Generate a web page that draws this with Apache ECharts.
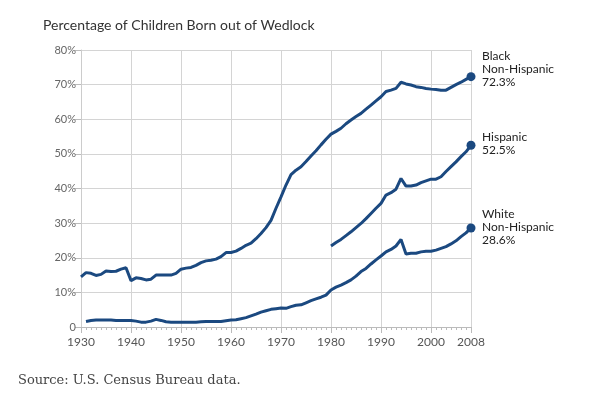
<!DOCTYPE html>
<html>
<head>
<meta charset="utf-8">
<script src="https://cdn.jsdelivr.net/npm/echarts@6/dist/echarts.min.js"></script>
<style>html,body{margin:0;padding:0;background:#fff;}#c{width:600px;height:400px;}</style>
</head>
<body>
<div id="c"></div>
<script>
const titleText = 'Percentage of Children Born out of Wedlock';
const sourceText = 'Source: U.S. Census Bureau data.';
const xTicks = [1930, 1940, 1950, 1960, 1970, 1980, 1990, 2000, 2008];

const blackStart = 1930;
const blackValues = [14.5,15.7,15.5,14.9,15.2,16.2,16.0,16.1,16.7,17.1,
  13.4,14.2,14.0,13.6,13.8,15.0,15.0,15.0,15.0,15.5,
  16.7,17.0,17.2,17.8,18.6,19.1,19.3,19.6,20.3,21.5,
  21.5,21.9,22.7,23.6,24.2,25.5,27.0,28.7,30.8,34.3,
  37.6,41.0,44.0,45.3,46.3,47.8,49.4,50.9,52.6,54.2,
  55.7,56.5,57.4,58.7,59.8,60.8,61.7,62.9,64.1,65.3,
  66.5,68.0,68.4,68.9,70.7,70.2,69.9,69.4,69.2,68.9,
  68.7,68.6,68.4,68.4,69.2,70.0,70.7,71.5,72.3];

const hispanicStart = 1980;
const hispanicValues = [23.4,24.4,25.3,26.4,27.5,28.7,29.9,31.3,32.8,34.3,
  35.7,38.1,38.8,39.8,42.9,40.7,40.7,41.0,41.7,42.2,
  42.7,42.7,43.4,44.9,46.3,47.7,49.2,50.6,52.5];

const whiteStart = 1931;
const whiteValues = [1.6,1.9,2.0,2.0,2.0,2.0,1.9,1.9,1.9,
  1.9,1.7,1.4,1.4,1.7,2.2,1.9,1.5,1.4,1.4,
  1.4,1.4,1.4,1.4,1.5,1.6,1.6,1.6,1.6,1.8,
  2.0,2.1,2.4,2.7,3.2,3.7,4.3,4.7,5.1,5.3,
  5.5,5.4,5.9,6.3,6.4,7.0,7.6,8.1,8.6,9.2,
  10.7,11.5,12.1,12.8,13.6,14.7,16.0,16.9,18.2,19.4,
  20.5,21.7,22.4,23.4,25.3,21.1,21.3,21.3,21.7,21.9,
  21.9,22.2,22.7,23.2,24.0,24.9,26.1,27.2,28.6];

const seriesNames = ['Black\nNon-Hispanic', 'Hispanic', 'White\nNon-Hispanic'];

const lineColor = '#1b4980';
function pairs(start, vals) { return vals.map((v, i) => [start + i, v]); }

function makeSeries(name, start, vals, offsetY) {
  const n = vals.length;
  return {
    type: 'line', name: name, data: pairs(start, vals),
    xAxisIndex: 0, yAxisIndex: 0,
    showSymbol: true, symbol: 'circle',
    symbolSize: (v, p) => p.dataIndex === n - 1 ? 9 : 0,
    lineStyle: { color: lineColor, width: 3 },
    itemStyle: { color: lineColor },
    animation: false, silent: true,
    endLabel: {
      show: true, distance: 11, offset: [0, offsetY],
      formatter: (p) => name + '\n' + p.value[1].toFixed(1) + '%',
      color: '#222', fontFamily: 'Lato', fontSize: 12, lineHeight: 13, align: 'left'
    }
  };
}

const chart = echarts.init(document.getElementById('c'), null, { renderer: 'canvas' });
chart.setOption({
  backgroundColor: '#fff',
  animation: false,
  title: {
    text: titleText, left: 38, top: 13,
    textStyle: { fontFamily: 'Lato', fontSize: 14, fontWeight: 'normal', color: '#333' }
  },
  graphic: [{
    type: 'text', left: 18, top: 374,
    style: { text: sourceText, font: '13px "DejaVu Serif"', fill: '#444' }
  }],
  grid: { left: 81, right: 129, top: 50, bottom: 73, containLabel: false },
  xAxis: [{
    type: 'value', min: 1930, max: 2008, interval: 10,
    axisLine: { show: true, lineStyle: { color: '#bbb', width: 1 } },
    axisTick: { show: true, length: 6, lineStyle: { color: '#bbb' } },
    splitLine: { show: true, lineStyle: { color: '#d4d4d4', width: 1 } },
    axisLabel: {
      margin: 9, color: '#555', fontFamily: 'Lato', fontSize: 12,
      showMaxLabel: true, showMinLabel: true,
      formatter: (v) => xTicks.indexOf(v) >= 0 ? String(v) : ''
    }
  }, {
    type: 'value', min: 1930, max: 2008, interval: 1, position: 'bottom',
    axisLine: { show: false },
    axisTick: { show: true, length: 3, lineStyle: { color: '#bbb' } },
    splitLine: { show: false },
    axisLabel: { show: false }
  }],
  yAxis: {
    type: 'value', min: 0, max: 80, interval: 10,
    axisLine: { show: true, lineStyle: { color: '#ccc' } },
    axisTick: { show: true, length: 6, lineStyle: { color: '#bbb' } },
    splitLine: { show: true, lineStyle: { color: '#d4d4d4', width: 1 } },
    axisLabel: {
      margin: 5, color: '#666', fontFamily: 'Lato', fontSize: 11,
      formatter: (v) => v === 0 ? '0' : v + '%'
    }
  },
  series: [
    makeSeries(seriesNames[0], blackStart, blackValues, -8),
    makeSeries(seriesNames[1], hispanicStart, hispanicValues, -2),
    makeSeries(seriesNames[2], whiteStart, whiteValues, -1)
  ]
});
</script>
</body>
</html>
